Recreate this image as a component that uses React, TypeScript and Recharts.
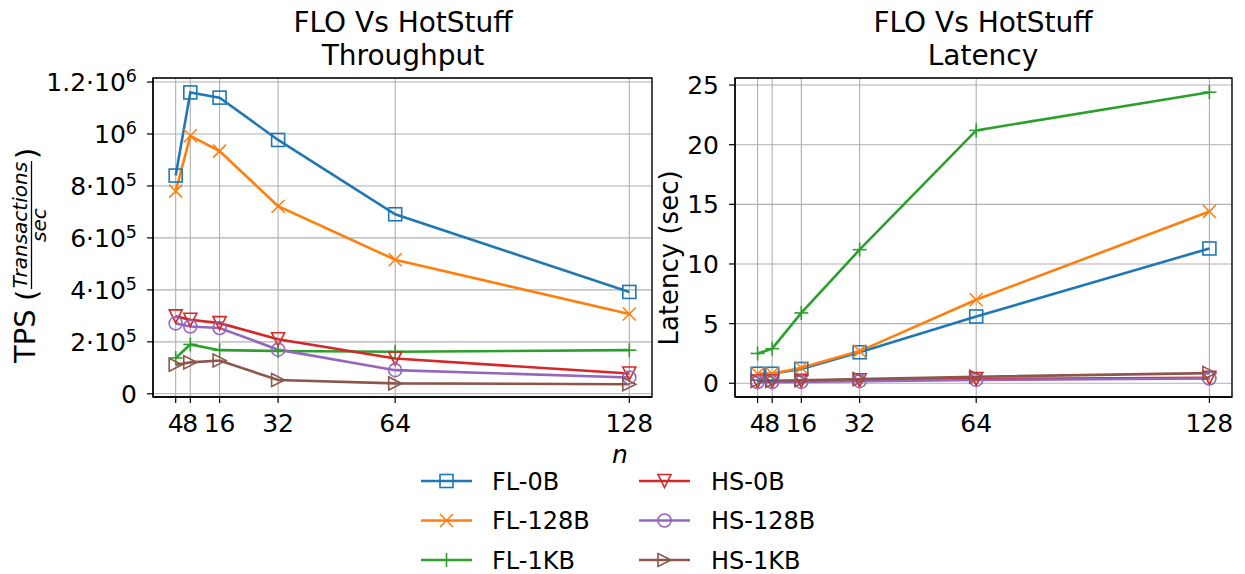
import React from 'react';
import { LineChart, Line, XAxis, YAxis, CartesianGrid, ReferenceArea } from 'recharts';

// ---------- data ----------
const nValues = [4, 8, 16, 32, 64, 128];

const flTps0B = [840000, 1160000, 1140000, 977000, 691000, 392000];
const flTps128B = [780000, 993000, 934000, 722000, 516000, 307000];
const flTps1KB = [138000, 190000, 168000, 165000, 162000, 168000];
const hsTps0B = [298000, 285000, 272000, 210000, 136000, 78000];
const hsTps128B = [271000, 259000, 253000, 170000, 91000, 63000];
const hsTps1KB = [112000, 121000, 128000, 53000, 40000, 37000];

const flLat0B = [0.8, 0.8, 1.2, 2.6, 5.6, 11.3];
const flLat128B = [0.8, 0.8, 1.3, 2.7, 7.0, 14.4];
const flLat1KB = [2.5, 2.9, 5.9, 11.2, 21.2, 24.4];
const hsLat0B = [0.15, 0.15, 0.2, 0.25, 0.35, 0.45];
const hsLat128B = [0.1, 0.1, 0.12, 0.18, 0.28, 0.4];
const hsLat1KB = [0.2, 0.2, 0.25, 0.35, 0.55, 0.85];

const tpsTicks = [0, 200000, 400000, 600000, 800000, 1000000, 1200000];
const latTicks = [0, 5, 10, 15, 20, 25];
const xDomain = [-2.2, 134.2];
const tpsDomain = [-12300, 1215500];
const latDomain = [-1.15, 25.59];

const titleLine1 = 'FLO Vs HotStuff';
const tpsTitle = 'Throughput';
const latTitle = 'Latency';

type MarkerKind = 'square' | 'x' | 'plus' | 'tdown' | 'circle' | 'tright';
interface Series { key: string; name: string; color: string; marker: MarkerKind; tps: number[]; lat: number[] }

const series: Series[] = [
  { key: 'fl0', name: 'FL-0B', color: '#1f77b4', marker: 'square', tps: flTps0B, lat: flLat0B },
  { key: 'fl128', name: 'FL-128B', color: '#ff7f0e', marker: 'x', tps: flTps128B, lat: flLat128B },
  { key: 'fl1k', name: 'FL-1KB', color: '#2ca02c', marker: 'plus', tps: flTps1KB, lat: flLat1KB },
  { key: 'hs0', name: 'HS-0B', color: '#d62728', marker: 'tdown', tps: hsTps0B, lat: hsLat0B },
  { key: 'hs128', name: 'HS-128B', color: '#9467bd', marker: 'circle', tps: hsTps128B, lat: hsLat128B },
  { key: 'hs1k', name: 'HS-1KB', color: '#8c564b', marker: 'tright', tps: hsTps1KB, lat: hsLat1KB },
];

const tpsRows = nValues.map((n, i) => {
  const r: any = { n };
  series.forEach((s) => (r[s.key] = s.tps[i]));
  return r;
});
const latRows = nValues.map((n, i) => {
  const r: any = { n };
  series.forEach((s) => (r[s.key] = s.lat[i]));
  return r;
});

const FONT = '"DejaVu Sans", sans-serif';
const TICK_FS = 25;

function Marker({ kind, cx, cy, color, h = 6.5 }: { kind: MarkerKind; cx: number; cy: number; color: string; h?: number }) {
  const sw = 1.6;
  switch (kind) {
    case 'square':
      return <rect x={cx - h} y={cy - h} width={2 * h} height={2 * h} fill="none" stroke={color} strokeWidth={sw} />;
    case 'x':
      return (
        <g stroke={color} strokeWidth={sw}>
          <line x1={cx - h} y1={cy - h} x2={cx + h} y2={cy + h} />
          <line x1={cx - h} y1={cy + h} x2={cx + h} y2={cy - h} />
        </g>
      );
    case 'plus':
      return (
        <g stroke={color} strokeWidth={sw}>
          <line x1={cx - h - 0.5} y1={cy} x2={cx + h + 0.5} y2={cy} />
          <line x1={cx} y1={cy - h - 0.5} x2={cx} y2={cy + h + 0.5} />
        </g>
      );
    case 'tdown':
      return <polygon points={`${cx - h},${cy - h} ${cx + h},${cy - h} ${cx},${cy + h}`} fill="none" stroke={color} strokeWidth={sw} />;
    case 'circle':
      return <circle cx={cx} cy={cy} r={h} fill="none" stroke={color} strokeWidth={sw} />;
    case 'tright':
      return <polygon points={`${cx - h},${cy - h} ${cx - h},${cy + h} ${cx + h},${cy}`} fill="none" stroke={color} strokeWidth={sw} />;
  }
  return null;
}

const makeDot = (s: Series) => (p: any) => {
  if (p.cx == null || p.cy == null) return <g key={`d-${s.key}-${p.index}`} />;
  return (
    <g key={`d-${s.key}-${p.index}`}>
      <Marker kind={s.marker} cx={p.cx} cy={p.cy} color={s.color} />
    </g>
  );
};

const sciTick = (p: any) => {
  const v = p.payload.value as number;
  let mant = '';
  let exp = '';
  if (v === 0) {
    mant = '0';
  } else {
    const e = Math.floor(Math.log10(v) + 1e-9);
    const m = Math.round((v / Math.pow(10, e)) * 10) / 10;
    mant = m === 1 ? '10' : `${m}\u00B710`;
    exp = String(e);
  }
  return (
    <text x={p.x} y={p.y} dy="0.36em" textAnchor="end" fontSize={TICK_FS} fontFamily={FONT} fill="#000">
      {mant}
      {exp && (
        <tspan dy="-0.5em" fontSize={TICK_FS * 0.7}>
          {exp}
        </tspan>
      )}
    </text>
  );
};

const plainYTick = (p: any) => (
  <text x={p.x} y={p.y} dy="0.36em" textAnchor="end" fontSize={TICK_FS} fontFamily={FONT} fill="#000">
    {p.payload.value}
  </text>
);

const xTick = (p: any) => (
  <text x={p.x} y={p.y} dy="0.71em" textAnchor="middle" fontSize={TICK_FS} fontFamily={FONT} fill="#000">
    {p.payload.value}
  </text>
);

function Panel({ rows, yDomain, yTicks, yTick, width, marginRight, yWidth }: any) {
  return (
    <LineChart
      width={width}
      height={574}
      data={rows}
      margin={{ top: 78, right: marginRight, bottom: 137, left: 0 }}
    >
      <CartesianGrid stroke="#b0b0b0" strokeWidth={1.1} />
      <XAxis
        dataKey="n"
        type="number"
        domain={xDomain}
        ticks={nValues}
        interval={0}
        allowDataOverflow
        height={40}
        tickSize={6}
        tickMargin={11}
        tick={xTick}
        axisLine={{ stroke: '#000', strokeWidth: 1.3 }}
        tickLine={{ stroke: '#000', strokeWidth: 1.2 }}
      />
      <YAxis
        type="number"
        domain={yDomain}
        ticks={yTicks}
        interval={0}
        allowDataOverflow
        width={yWidth}
        tickSize={6}
        tickMargin={10}
        tick={yTick}
        axisLine={{ stroke: '#000', strokeWidth: 1.3 }}
        tickLine={{ stroke: '#000', strokeWidth: 1.2 }}
      />
      <ReferenceArea
        x1={xDomain[0]}
        x2={xDomain[1]}
        y1={yDomain[0]}
        y2={yDomain[1]}
        fill="none"
        fillOpacity={0}
        stroke="#000"
        strokeWidth={1.3}
        ifOverflow="visible"
      />
      {series.map((s) => (
        <Line
          key={s.key}
          dataKey={s.key}
          name={s.name}
          type="linear"
          stroke={s.color}
          strokeWidth={2.6}
          dot={makeDot(s)}
          activeDot={false}
          isAnimationActive={false}
        />
      ))}
    </LineChart>
  );
}

function Overlay() {
  const legendRows = [481, 520.5, 560];
  const cols = [
    { lineX: 421, textX: 492 },
    { lineX: 639, textX: 711 },
  ];
  return (
    <svg width={1245} height={574} style={{ position: 'absolute', left: 0, top: 0, pointerEvents: 'none' }} fontFamily={FONT}>
      {/* titles */}
      <text x={403} y={32} textAnchor="middle" fontSize={28} fill="#000">{titleLine1}</text>
      <text x={403} y={65} textAnchor="middle" fontSize={28} fill="#000">{tpsTitle}</text>
      <text x={983} y={32} textAnchor="middle" fontSize={28} fill="#000">{titleLine1}</text>
      <text x={983} y={65} textAnchor="middle" fontSize={28} fill="#000">{latTitle}</text>

      {/* TPS y label */}
      <g transform="translate(35,363) rotate(-90)" fill="#000">
        <text x={0} y={0} fontSize={29}>TPS</text>
        <text x={62} y={2} fontSize={29}>(</text>
        <text x={138} y={-8} textAnchor="middle" fontSize={20} fontStyle="italic">Transactions</text>
        <line x1={74} x2={202} y1={-3.5} y2={-3.5} stroke="#000" strokeWidth={1.3} />
        <text x={138} y={11} textAnchor="middle" fontSize={20} fontStyle="italic">sec</text>
        <text x={204} y={2} fontSize={29}>)</text>
      </g>

      {/* Latency y label */}
      <text transform="translate(678,258) rotate(-90)" x={0} y={0} textAnchor="middle" fontSize={26} fill="#000">
        Latency (sec)
      </text>

      {/* x label */}
      <text x={620} y={463} textAnchor="middle" fontSize={25} fontStyle="italic" fill="#000">n</text>

      {/* legend */}
      {series.map((s, i) => {
        const col = cols[Math.floor(i / 3)];
        const y = legendRows[i % 3];
        return (
          <g key={s.key}>
            <line x1={col.lineX} x2={col.lineX + 51} y1={y} y2={y} stroke={s.color} strokeWidth={2.6} />
            <Marker kind={s.marker} cx={col.lineX + 25.5} cy={y} color={s.color} />
            <text x={col.textX} y={y + 8.7} fontSize={24} fill="#000">{s.name}</text>
          </g>
        );
      })}
    </svg>
  );
}

export default function App() {
  return (
    <div style={{ position: 'fixed', left: 0, top: 0, width: 1245, height: 574, background: '#fff', fontFamily: FONT, overflow: 'hidden' }}>
      <div style={{ position: 'absolute', left: 0, top: 0 }}>
        <Panel rows={tpsRows} yDomain={tpsDomain} yTicks={tpsTicks} yTick={sciTick} width={680} marginRight={28} yWidth={153} />
      </div>
      <div style={{ position: 'absolute', left: 640, top: 0 }}>
        <Panel rows={latRows} yDomain={latDomain} yTicks={latTicks} yTick={plainYTick} width={605} marginRight={13} yWidth={95} />
      </div>
      <Overlay />
    </div>
  );
}
